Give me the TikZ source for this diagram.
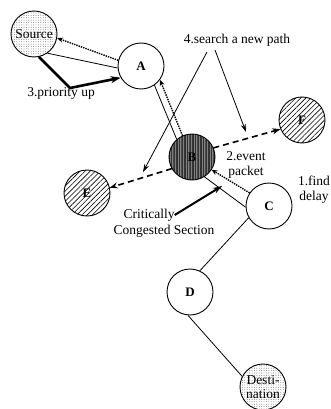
\documentclass[tikz,border=0pt]{standalone}
\usepackage{fontspec}
\setmainfont{Liberation Serif}
\usetikzlibrary{patterns,patterns.meta,arrows.meta}
\begin{document}
\begin{tikzpicture}[x=1pt,y=-1pt,
  nd/.style={circle,draw,line width=0.9pt,minimum size=46pt,inner sep=0pt,fill=white,
    font=\fontsize{13}{13}\selectfont\bfseries},
  dotfill/.style={pattern={Dots[distance=2.4pt,radius=0.4pt]},pattern color=black!70},
  hatch/.style={pattern={Lines[angle=45,distance=3.6pt,line width=0.6pt]}},
  dark/.style={preaction={fill=black!50},pattern={Lines[angle=90,distance=1.6pt,line width=0.5pt]},pattern color=black!80},
  lbl/.style={font=\fontsize{13.5}{15}\selectfont,align=center,inner sep=0pt},
  intext/.style={font=\fontsize{13.5}{13.5}\selectfont,align=center},
  link/.style={line width=0.8pt},
  dotarrow/.style={densely dotted,line width=1.4pt,-{Stealth[length=6pt,width=5pt]}},
  bigarrow/.style={line width=2.6pt,-{Stealth[length=10pt,width=7pt]}},
  dasharrow/.style={dash pattern=on 6pt off 4pt,line width=1.6pt,-{Stealth[length=8pt,width=6pt]}},
  thinarrow/.style={line width=0.8pt,-{Stealth[length=8pt,width=5pt]}}
]
\useasboundingbox (0,0) rectangle (330,409);

\node[nd,dotfill,intext] (src) at (34,34) {Source};
\node[nd] (A) at (141,66) {A};
\node[nd,dark] (B) at (192,157) {B};
\node[nd] (C) at (269,206) {C};
\node[nd] (D) at (190,292) {D};
\node[nd,hatch] (E) at (87,193) {E};
\node[nd,hatch] (F) at (302,120) {F};
\node[nd,dotfill,intext] (dst) at (263,387) {Desti-\\nation};

% links
\draw[link] (src.-55) -- (A.185);
\draw[dotarrow] (A.166) -- (src.-10);
\draw[link] (A.-55) -- (B.131);
\draw[dotarrow] (B.114) -- (A.-36);
\draw[link] (B.-58) -- (C.183);
\draw[dotarrow] (C.146) -- (B.-33);
\draw[link] (C.210) -- (D.65);
\draw[link] (D.-95) -- (dst.153);

% priority up
\coordinate (bend) at (70,88);
\draw[bigarrow,line join=miter] (src.-78) -- (bend) -- (A.210);
\node[lbl] (pri) at (61,93) {3.priority up};

% new path
\draw[dasharrow] (B.23) -- (F.203);
\draw[dasharrow] (B.210) -- (E.13);
\node[lbl] (srch) at (237,40) {4.search a new path};
\coordinate (s1) at (207,52);
\coordinate (t1) at (143,172);
\coordinate (s2) at (215,50);
\coordinate (t2) at (246,132);
\draw[thinarrow] (s1) -- (t1);
\draw[thinarrow] (s2) -- (t2);

% labels
\node[lbl] (ev) at (246,165) {2.event\\packet};
\node[lbl] (fd) at (314,190) {1.find\\delay};
\node[lbl] (crit1) at (149,215) {Critically};
\node[lbl] (crit2) at (164,231) {Congested Section};
\coordinate (ct) at (222,186);
\draw[line width=2pt,-{Stealth[length=9pt,width=6pt]}] (crit1.east) -- (ct);
\end{tikzpicture}
\end{document}
